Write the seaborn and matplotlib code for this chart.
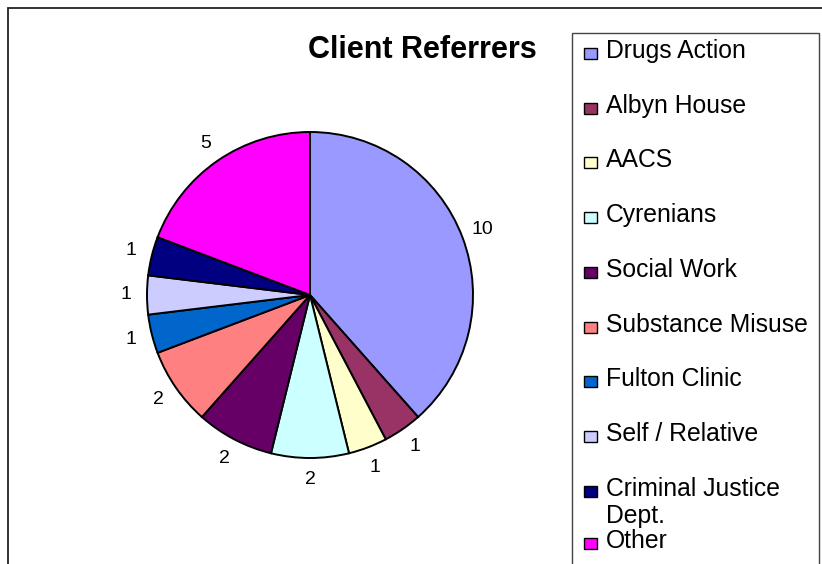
import matplotlib
matplotlib.use("Agg")
import matplotlib.pyplot as plt
import matplotlib.patches as mpatches
import seaborn as sns

sns.set_theme(style="white")
plt.rcParams['font.family'] = ['Liberation Sans', 'DejaVu Sans']
plt.rcParams['text.color'] = 'black'

# data
referrers = ['Drugs Action', 'Albyn House', 'AACS', 'Cyrenians', 'Social Work',
             'Substance Misuse', 'Fulton Clinic', 'Self / Relative',
             'Criminal Justice\nDept.', 'Other']
counts = [10, 1, 1, 2, 2, 2, 1, 1, 1, 5]
slice_colors = ['#9999FF', '#993366', '#FFFFCC', '#CCFFFF', '#660066',
                '#FF8080', '#0066CC', '#CCCCFF', '#000080', '#FF00FF']

W, H = 822, 564
fig = plt.figure(figsize=(W / 100, H / 100), dpi=100)


def fx(x):
    return x / W


def fy(y):
    return 1 - y / H


# outer chart border
fig.patches.append(mpatches.Rectangle((fx(8), -0.1), 1.2, fy(8) + 0.1,
                                      transform=fig.transFigure, fill=False,
                                      edgecolor='#222222', lw=1.3))

# pie
cx, cy, r = 310, 295, 163
ax = fig.add_axes([fx(cx - r), fy(cy + r), 2 * r / W, 2 * r / H])
pal = sns.color_palette(slice_colors)
ax.pie(counts, labels=[str(c) for c in counts], colors=pal, startangle=90,
       counterclock=False, labeldistance=1.13, radius=1,
       wedgeprops=dict(edgecolor='black', linewidth=1.4),
       textprops=dict(fontsize=14, ha='center', va='center', color='black'))
ax.set_xlim(-1, 1)
ax.set_ylim(-1, 1)
ax.set_aspect('auto')
ax.axis('off')

fig.text(fx(422), fy(58), 'Client Referrers', fontsize=22, fontweight='bold',
         ha='center', va='baseline', color='black')

# legend box
fig.patches.append(mpatches.Rectangle((fx(572), -0.1), fx(819) - fx(572), fy(33) + 0.1,
                                      transform=fig.transFigure, fill=False,
                                      edgecolor='#444444', lw=1.0))
baselines = [58 + 54.7 * i for i in range(9)] + [548]
for name, col, base in zip(referrers, pal, baselines):
    fig.patches.append(mpatches.Rectangle((fx(584), fy(base + 1)), 13 / W, 11 / H,
                                          transform=fig.transFigure, facecolor=col,
                                          edgecolor='black', lw=1.0))
    for k, line in enumerate(name.split('\n')):
        fig.text(fx(606), fy(base + 27 * k), line, fontsize=17.8, ha='left',
                 va='baseline', color='black')

fig.savefig('out.png', dpi=100)
